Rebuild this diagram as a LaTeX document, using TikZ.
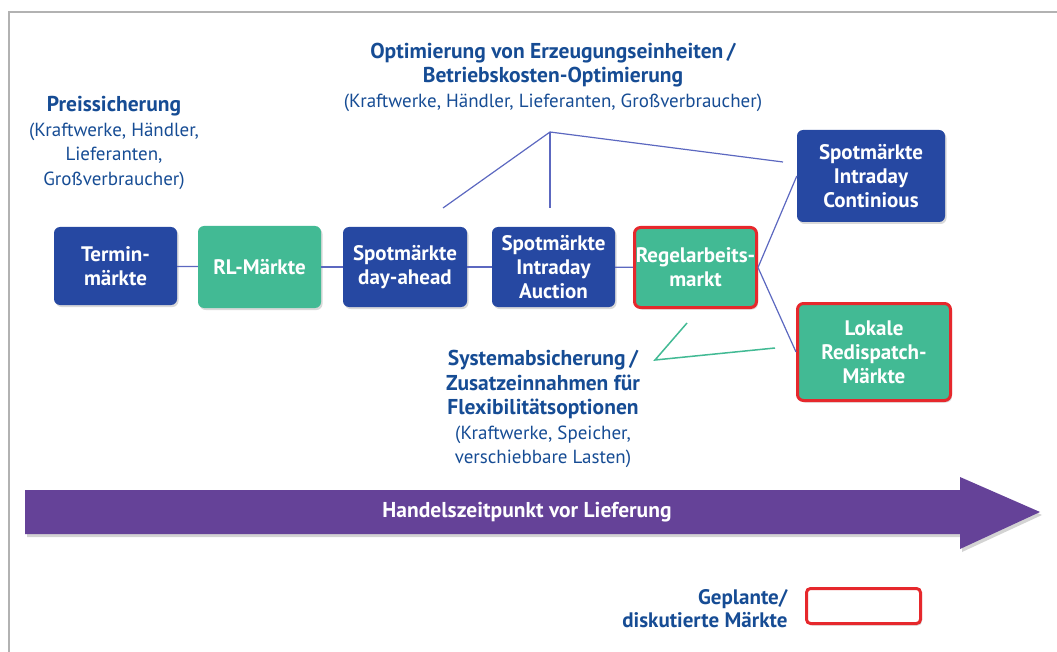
\documentclass[tikz,border=0pt]{standalone}
\usepackage{fontspec}
\setmainfont{PT Sans}
\definecolor{mktblue}{RGB}{38,72,162}
\definecolor{mktgreen}{RGB}{66,186,148}
\definecolor{mktred}{RGB}{230,40,44}
\definecolor{txtblue}{RGB}{22,76,148}
\definecolor{linkblue}{RGB}{92,104,192}
\definecolor{zeitpurple}{RGB}{101,66,152}
\usetikzlibrary{shadows}
\newcommand{\kopf}[1]{{\fontsize{21.5}{24.5}\selectfont\bfseries #1}}
\tikzset{
  markt/.style={rounded corners=6pt, text=white, align=center, inner sep=0pt,
    font=\fontsize{21}{24}\selectfont\bfseries,
    drop shadow={opacity=0.3, shadow xshift=1.5pt, shadow yshift=-2pt}},
  blaumarkt/.style={markt, fill=mktblue},
  gruenmarkt/.style={markt, fill=mktgreen},
  geplant/.style={draw=mktred, line width=3pt},
  link/.style={draw=linkblue, line width=1.2pt},
  rolle/.style={text=txtblue, align=center, font=\fontsize{19}{24.5}\selectfont},
}

\begin{document}
\begin{tikzpicture}[x=1pt, y=-1pt]
  \useasboundingbox (0,0) rectangle (1057,652);
  \draw [gray!60, line width=2pt] (9,652) -- (9,12) -- (1057,12);

  % markets along the time line
  \node [blaumarkt, minimum width=123pt, minimum height=78pt] at (115.5,266) (termin) {Termin-\\märkte};
  \node [gruenmarkt, minimum width=123pt, minimum height=82pt] at (259.5,267) (rl) {RL-Märkte};
  \node [blaumarkt, minimum width=124pt, minimum height=80pt] at (405,267) (dayahead) {Spotmärkte\\day-ahead};
  \node [blaumarkt, minimum width=123pt, minimum height=80pt] at (553.5,267) (auction) {Spotmärkte\\Intraday\\Auction};
  \node [gruenmarkt, geplant, minimum width=122pt, minimum height=80pt] at (695.5,267.5) (regel) {Regelarbeits-\\markt};
  \node [blaumarkt, minimum width=148pt, minimum height=92pt] at (871,176) (cont) {Spotmärkte\\Intraday\\Continious};
  \node [gruenmarkt, geplant, minimum width=153pt, minimum height=97pt] at (874,352) (lokal) {Lokale\\Redispatch-\\Märkte};

  \draw [link] (termin) -- (rl);
  \draw [link] (rl) -- (dayahead);
  \draw [link] (dayahead) -- (auction);
  \draw [link] (auction) -- (regel);
  \draw [link] (regel.east) -- (cont.west);
  \draw [link] (regel.east) -- (lokal.west);

  % who trades where
  \node [rolle] at (553,77) (optim) {\kopf{Optimierung von Erzeugungseinheiten\,/}\\\kopf{Betriebskosten-Optimierung}\\(Kraftwerke, Händler, Lieferanten, Großverbraucher)};
  \node [rolle] at (114,143) (preis) {\kopf{Preissicherung}\\(Kraftwerke, Händler,\\Lieferanten,\\Großverbraucher)};
  \node [rolle] at (543,409) (system) {\kopf{Systemabsicherung\,/}\\\kopf{Zusatzeinnahmen für}\\\kopf{Flexibilitätsoptionen}\\(Kraftwerke, Speicher,\\verschiebbare Lasten)};

  \coordinate (apex) at (550,132);
  \coordinate (apexl) at (443,208);
  \coordinate (apexm) at (550,208);
  \coordinate (apexr) at (783,162);
  \draw [link] (apexl) -- (apex) -- (apexr);
  \draw [link] (apex) -- (apexm);

  \coordinate (sysa) at (687,323);
  \coordinate (sysb) at (655,360);
  \coordinate (sysc) at (775,348);
  \draw [mktgreen, line width=1.5pt] (sysa) -- (sysb) -- (sysc);

  % time arrow
  \draw [fill=zeitpurple, draw=none, drop shadow={opacity=0.35, shadow xshift=2pt, shadow yshift=-3pt}]
    (25,490) -- (960,490) -- (960,477) -- (1040,512) -- (960,549) -- (960,534) -- (25,534) -- cycle;
  \node [text=white, font=\fontsize{21.5}{24}\selectfont\bfseries] at (527,512) (zeit) {Handelszeitpunkt vor Lieferung};

  % legend
  \node [rolle, align=right, anchor=east, font=\fontsize{21}{23}\selectfont\bfseries] at (791,609) (legtext) {Geplante/\\diskutierte Märkte};
  \node [geplant, fill=white, rounded corners=4pt, minimum width=114pt, minimum height=35pt,
    drop shadow={opacity=0.3, shadow xshift=1.5pt, shadow yshift=-2pt}] at (863.5,606) (legbox) {};
\end{tikzpicture}
\end{document}
